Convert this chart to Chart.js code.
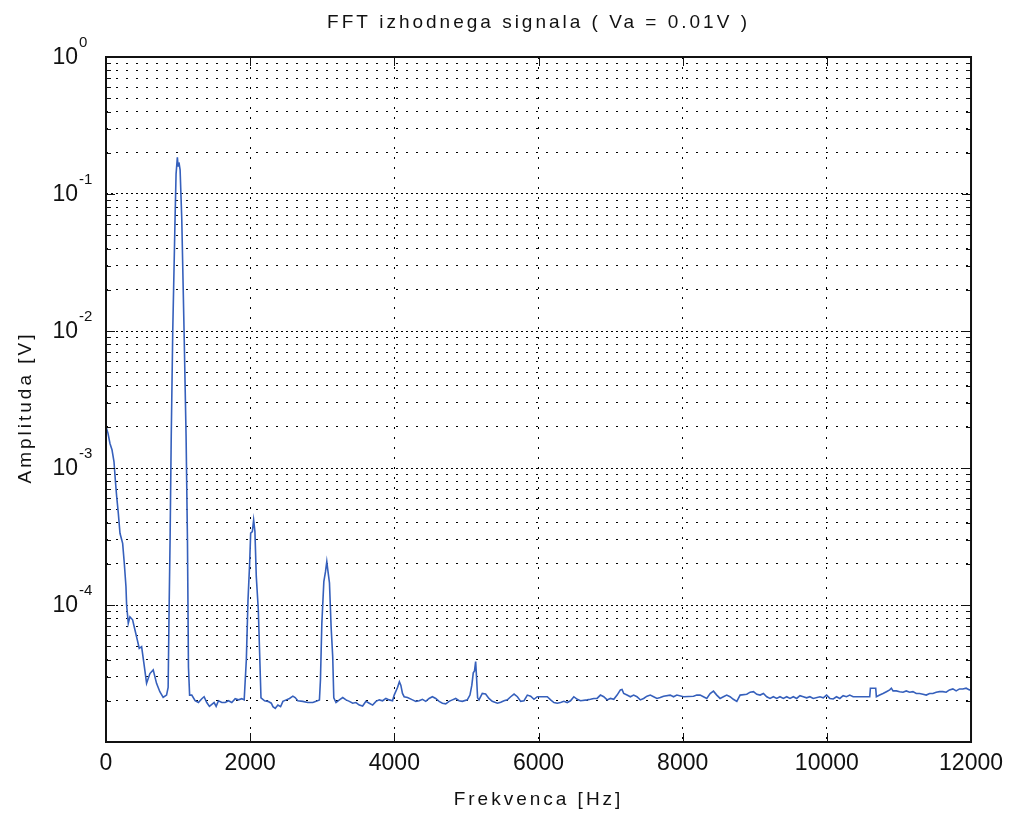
<!DOCTYPE html>
<html>
<head>
<meta charset="utf-8">
<title>FFT izhodnega signala</title>
<script src="https://cdn.jsdelivr.net/npm/chart.js@4.4.1/dist/chart.umd.min.js"></script>
<style>
  html, body { margin: 0; padding: 0; background: #fff; }
  #wrap { width: 1011px; height: 814px; }
</style>
</head>
<body>
<div id="wrap"><canvas id="fftChart" width="1011" height="814"></canvas></div>
<script>
// FFT of the output signal
const freqHz = [
  0, 28, 55, 83, 111, 129, 148, 171, 194, 231, 254, 277, 286, 309, 332, 369, 401, 434, 461, 494,
  526, 563, 609, 655, 701, 747, 793, 840,
  862, 875, 889, 905, 926, 958, 972, 990, 1000, 1012, 1028, 1051, 1083, 1111, 1130, 1144, 1160,
  1190, 1236, 1282, 1329, 1361, 1398, 1435, 1468, 1500, 1528, 1560, 1607, 1653, 1699, 1745, 1792, 1838, 1884, 1917,
  1947, 1970, 1993, 2007, 2030, 2048, 2066, 2085, 2113, 2131, 2150,
  2200, 2246, 2293, 2316, 2348, 2385, 2422, 2454, 2500, 2546, 2592, 2624, 2661, 2730, 2800, 2869, 2915, 2961,
  2975, 2994, 3022, 3045, 3063, 3080, 3100, 3123, 3145, 3160,
  3191, 3238, 3284, 3330, 3376, 3422, 3468, 3514, 3560, 3606, 3652, 3699, 3745, 3791, 3837, 3883, 3929, 3975, 3998,
  4044, 4070, 4090, 4113, 4136, 4183, 4252, 4298, 4344, 4390, 4436, 4482, 4528, 4574, 4621, 4667, 4713, 4759, 4805,
  4851, 4897, 4943, 5012, 5049, 5075, 5095, 5112, 5128, 5140, 5155, 5174, 5220, 5266, 5312, 5358, 5404,
  5430, 5476, 5522, 5568, 5614, 5661, 5707, 5753, 5799, 5845, 5891, 5937, 5983, 6076, 6122, 6168, 6214, 6260,
  6306, 6352, 6398, 6444, 6490, 6537, 6583, 6675, 6721, 6767, 6813, 6859, 6905, 6951, 6998, 7044, 7090, 7136,
  7159, 7182, 7228, 7274, 7320, 7366, 7412, 7458, 7505, 7551, 7597, 7643, 7689, 7735, 7827, 7873, 7919, 8012,
  8150, 8196, 8242, 8288, 8334, 8381, 8427, 8473, 8519, 8565, 8611, 8657, 8703,
  8751, 8797, 8889, 8936, 8982, 9028, 9074, 9120, 9166, 9212, 9258, 9304, 9350, 9397, 9443, 9489, 9535, 9581,
  9627, 9673, 9719, 9765, 9811, 9904, 9950, 9996, 10042, 10088, 10134, 10180, 10226, 10272, 10318, 10365,
  10595, 10604, 10678, 10687, 10733, 10779, 10826, 10872, 10895, 10918, 10964, 11010, 11056, 11102, 11148,
  11194, 11240, 11287, 11333, 11379, 11425, 11471, 11517, 11563, 11609, 11655, 11701, 11748, 11794, 11840,
  11886, 11932, 11978, 12000
];
const ampV = [
  2.0e-3, 1.79e-3, 1.51e-3, 1.36e-3, 1.11e-3, 8.2e-4, 6.2e-4, 4.66e-4, 3.34e-4, 2.82e-4, 2.01e-4, 1.36e-4, 1.0e-4, 7.35e-5, 8.2e-5, 7.8e-5, 6.6e-5, 5.56e-5, 4.83e-5, 4.97e-5,
  3.75e-5, 2.68e-5, 3.16e-5, 3.36e-5, 2.68e-5, 2.33e-5, 2.12e-5, 2.2e-5,
  2.5e-5, 9.0e-5, 3.0e-4, 1.7e-3, 1.0e-2, 6.6e-2, 0.14, 0.185, 0.16, 0.17, 0.15, 0.066, 1.0e-2, 1.7e-3, 3.0e-4, 3.5e-5, 2.2e-5,
  2.2e-5, 2.0e-5, 1.94e-5, 2.07e-5, 2.14e-5, 1.94e-5, 1.82e-5, 1.88e-5, 1.94e-5, 1.82e-5, 2.0e-5, 1.94e-5, 1.94e-5, 2.0e-5, 1.94e-5, 2.07e-5, 2.03e-5, 2.07e-5, 2.03e-5,
  4.0e-5, 1.09e-4, 2.03e-4, 3.35e-4, 3.43e-4, 4.17e-4, 3.43e-4, 1.61e-4, 9.2e-5, 4.5e-5, 2.1e-5,
  2.0e-5, 1.98e-5, 1.92e-5, 1.81e-5, 1.76e-5, 1.86e-5, 1.81e-5, 1.98e-5, 2.03e-5, 2.08e-5, 2.16e-5, 2.11e-5, 2.0e-5, 1.98e-5, 1.94e-5, 1.94e-5, 1.98e-5, 2.03e-5,
  2.84e-5, 7.3e-5, 1.48e-4, 1.75e-4, 2.07e-4, 1.75e-4, 1.45e-4, 6.9e-5, 4.2e-5, 2.1e-5,
  1.94e-5, 2.03e-5, 2.11e-5, 2.03e-5, 1.98e-5, 1.92e-5, 1.94e-5, 1.86e-5, 1.83e-5, 1.98e-5, 1.92e-5, 1.86e-5, 1.98e-5, 2.03e-5, 2.0e-5, 2.08e-5, 2.03e-5, 2.0e-5, 2.2e-5,
  2.5e-5, 2.75e-5, 2.6e-5, 2.26e-5, 2.14e-5, 2.11e-5, 2.03e-5, 1.98e-5, 2.0e-5, 2.05e-5, 1.98e-5, 2.08e-5, 2.14e-5, 2.08e-5, 1.98e-5, 1.92e-5, 1.9e-5, 1.98e-5, 2.03e-5,
  2.08e-5, 2.0e-5, 1.98e-5, 2.03e-5, 2.2e-5, 2.6e-5, 3.2e-5, 3.3e-5, 3.86e-5, 3.0e-5, 2.1e-5, 2.03e-5, 2.26e-5, 2.24e-5, 2.08e-5, 1.98e-5, 1.94e-5,
  1.92e-5, 1.95e-5, 2.0e-5, 2.03e-5, 2.14e-5, 2.24e-5, 2.14e-5, 1.98e-5, 2.0e-5, 2.2e-5, 2.16e-5, 2.05e-5, 2.14e-5, 2.14e-5, 2.14e-5, 2.03e-5, 1.94e-5, 1.92e-5,
  1.94e-5, 1.98e-5, 1.94e-5, 2.0e-5, 2.14e-5, 2.05e-5, 2.0e-5, 2.03e-5, 2.05e-5, 2.08e-5, 2.08e-5, 2.2e-5, 2.14e-5, 2.03e-5, 2.08e-5, 2.05e-5, 2.2e-5, 2.4e-5,
  2.42e-5, 2.26e-5, 2.2e-5, 2.14e-5, 2.2e-5, 2.14e-5, 2.03e-5, 2.08e-5, 2.16e-5, 2.2e-5, 2.14e-5, 2.08e-5, 2.11e-5, 2.16e-5, 2.2e-5, 2.14e-5, 2.2e-5, 2.14e-5,
  2.16e-5, 2.2e-5, 2.2e-5, 2.14e-5, 2.08e-5, 2.26e-5, 2.35e-5, 2.2e-5, 2.08e-5, 2.14e-5, 2.2e-5, 2.14e-5, 2.05e-5,
  1.98e-5, 2.2e-5, 2.23e-5, 2.31e-5, 2.33e-5, 2.23e-5, 2.2e-5, 2.26e-5, 2.14e-5, 2.08e-5, 2.14e-5, 2.08e-5, 2.14e-5, 2.08e-5, 2.14e-5, 2.08e-5, 2.14e-5, 2.08e-5,
  2.18e-5, 2.14e-5, 2.1e-5, 2.14e-5, 2.08e-5, 2.14e-5, 2.1e-5, 2.2e-5, 2.08e-5, 2.06e-5, 2.14e-5, 2.08e-5, 2.18e-5, 2.14e-5, 2.2e-5, 2.14e-5,
  2.14e-5, 2.47e-5, 2.47e-5, 2.14e-5, 2.2e-5, 2.26e-5, 2.33e-5, 2.4e-5, 2.47e-5, 2.36e-5, 2.36e-5, 2.33e-5, 2.31e-5, 2.36e-5, 2.31e-5,
  2.33e-5, 2.26e-5, 2.26e-5, 2.23e-5, 2.2e-5, 2.26e-5, 2.26e-5, 2.31e-5, 2.33e-5, 2.33e-5, 2.31e-5, 2.4e-5, 2.44e-5, 2.36e-5, 2.44e-5,
  2.44e-5, 2.47e-5, 2.4e-5, 2.4e-5
];

// axis ticks
const xTicks = [0, 2000, 4000, 6000, 8000, 10000, 12000];
const yDecades = [1e-5, 1e-4, 1e-3, 1e-2, 1e-1];
const yMinorSteps = [1, 2, 3, 4, 5, 6, 7, 8, 9];
const yLabelExps = [0, -1, -2, -3, -4];

const chartTitle = 'FFT izhodnega signala ( Va = 0.01V )';
const xTitle = 'Frekvenca [Hz]';
const yTitle = 'Amplituda [V]';

const FONT = '"Liberation Sans", Arial, sans-serif';
const TEXT = '#111';
const GRID = '#000';
const LINE = '#3660bc';

const yGrid = [];
yDecades.forEach(d => yMinorSteps.forEach(m => yGrid.push(m * d)));
yGrid.push(1);

function isDecade(v) {
  const l = Math.log10(v);
  return Math.abs(l - Math.round(l)) < 1e-9;
}

// box, inward tick marks, 10^n labels and axis texts (MATLAB look)
const matlabAxes = {
  id: 'matlabAxes',
  afterDraw(chart) {
    const { ctx, chartArea: a, scales: { x, y } } = chart;
    ctx.save();
    ctx.strokeStyle = TEXT;
    ctx.lineWidth = 1;
    ctx.beginPath();
    yGrid.forEach(v => {
      const py = Math.round(y.getPixelForValue(v)) + 0.5;
      const len = isDecade(v) ? 9 : 5;
      ctx.moveTo(a.left, py); ctx.lineTo(a.left + len, py);
      ctx.moveTo(a.right, py); ctx.lineTo(a.right - len, py);
    });
    xTicks.forEach(v => {
      const px = Math.round(x.getPixelForValue(v)) + 0.5;
      ctx.moveTo(px, a.bottom); ctx.lineTo(px, a.bottom - 9);
      ctx.moveTo(px, a.top); ctx.lineTo(px, a.top + 9);
    });
    ctx.stroke();

    ctx.lineWidth = 2;
    ctx.strokeRect(a.left, a.top, a.right - a.left, a.bottom - a.top);

    ctx.fillStyle = TEXT;
    yLabelExps.forEach(e => {
      const py = y.getPixelForValue(Math.pow(10, e));
      ctx.font = '23px ' + FONT;
      ctx.textAlign = 'right';
      ctx.textBaseline = 'middle';
      ctx.fillText('10', a.left - 28, py + 1);
      ctx.font = '15px ' + FONT;
      ctx.textAlign = 'left';
      ctx.fillText(e === 0 ? '0' : '-' + (-e), a.left - 27, py - 14);
    });

    ctx.letterSpacing = '3px';
    ctx.font = '19px ' + FONT;
    ctx.textAlign = 'center';
    ctx.textBaseline = 'alphabetic';
    const cx = (a.left + a.right) / 2;
    ctx.fillText(chartTitle, cx, 28);
    ctx.fillText(xTitle, cx, 805);
    ctx.translate(31, (a.top + a.bottom) / 2 + 8);
    ctx.rotate(-Math.PI / 2);
    ctx.fillText(yTitle, 0, 0);
    ctx.restore();
  }
};

const ctx = document.getElementById('fftChart').getContext('2d');
const fftChart = new Chart(ctx, {
  type: 'line',
  data: {
    datasets: [{
      data: freqHz.map((f, i) => ({ x: f, y: ampV[i] })),
      borderColor: LINE,
      borderWidth: 1.6,
      pointRadius: 0,
      tension: 0,
      fill: false
    }]
  },
  options: {
    responsive: false,
    animation: false,
    devicePixelRatio: 1,
    layout: { padding: { top: 57, right: 38, bottom: 0, left: 0 } },
    plugins: { legend: { display: false }, tooltip: { enabled: false } },
    scales: {
      x: {
        type: 'linear', min: 0, max: 12000,
        afterBuildTicks: s => { s.ticks = xTicks.map(v => ({ value: v })); },
        afterFit: s => { s.height = 72; },
        ticks: { autoSkip: false, maxRotation: 0, padding: 8, color: TEXT, font: { family: FONT, size: 23 }, callback: v => String(v) },
        grid: { color: GRID, lineWidth: 1, drawTicks: false },
        border: { display: false, dash: [2, 8] }
      },
      y: {
        type: 'logarithmic', min: 1e-5, max: 1,
        afterBuildTicks: s => { s.ticks = yGrid.map(v => ({ value: v })); },
        afterFit: s => { s.width = 106; },
        ticks: { display: false },
        grid: { color: GRID, lineWidth: 1, drawTicks: false },
        border: { display: false, dash: c => (c.tick && isDecade(c.tick.value)) ? [2, 3] : [2, 8] }
      }
    }
  },
  plugins: [matlabAxes]
});
</script>
</body>
</html>
